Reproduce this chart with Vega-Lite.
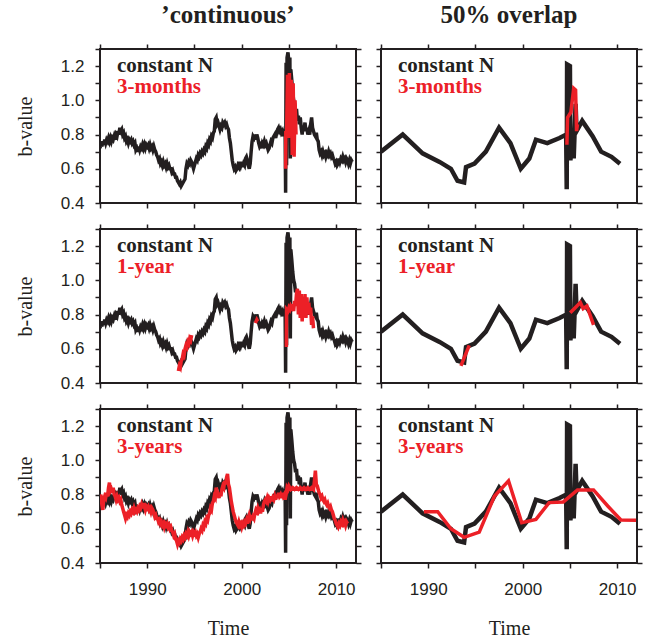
{
  "$schema": "https://vega.github.io/schema/vega-lite/v6.json",
  "background": "white",
  "padding": {"left": 14, "top": 2, "right": 0, "bottom": 0},
  "columns": 2,
  "spacing": {"row": 10, "column": 11},
  "resolve": {"scale": {"color": "independent"}, "legend": {"color": "independent"}},
  "config": {
    "view": {"stroke": "#231f20", "strokeWidth": 2},
    "axis": {"domain": false, "grid": false, "tickColor": "#231f20", "tickWidth": 1.5, "tickSize": 5, "labelFont": "Liberation Sans", "labelFontSize": 17, "labelColor": "#231f20", "titleFont": "Liberation Serif", "titleFontSize": 20, "titleFontWeight": "normal", "titleColor": "#231f20"},
    "axisX": {"labelPadding": 13, "titlePadding": 21},
    "axisY": {"labelPadding": 11, "titlePadding": 25},
    "legend": {"title": null, "symbolSize": 1, "symbolOpacity": 0, "symbolStrokeWidth": 0, "labelFont": "Liberation Serif", "labelFontSize": 21, "labelFontWeight": "bold", "labelOffset": 0, "padding": 0, "labelColor": {"expr": "datum.label === 'constant N' ? '#231f20' : '#ec2027'"}},
    "title": {"font": "Liberation Serif", "fontSize": 25, "fontWeight": "bold", "color": "#231f20", "frame": "group", "anchor": "middle", "offset": 15}
  },
  "datasets": {
    "contN": [
      {"t":1985.0,"b":0.72},{"t":1985.1,"b":0.75},{"t":1985.2,"b":0.73},{"t":1985.3,"b":0.76},{"t":1985.4,"b":0.74},{"t":1985.5,"b":0.77},{"t":1985.6,"b":0.75},{"t":1985.7,"b":0.77},{"t":1985.8,"b":0.76},{"t":1985.9,"b":0.78},
      {"t":1986.0,"b":0.76},{"t":1986.1,"b":0.78},{"t":1986.2,"b":0.76},{"t":1986.3,"b":0.78},{"t":1986.4,"b":0.77},{"t":1986.5,"b":0.79},{"t":1986.6,"b":0.77},{"t":1986.7,"b":0.80},{"t":1986.8,"b":0.79},{"t":1986.9,"b":0.82},
      {"t":1987.0,"b":0.80},{"t":1987.1,"b":0.84},{"t":1987.2,"b":0.82},{"t":1987.3,"b":0.83},{"t":1987.4,"b":0.80},{"t":1987.5,"b":0.81},{"t":1987.6,"b":0.78},{"t":1987.7,"b":0.79},{"t":1987.8,"b":0.76},{"t":1987.9,"b":0.77},
      {"t":1988.0,"b":0.75},{"t":1988.1,"b":0.77},{"t":1988.2,"b":0.76},{"t":1988.3,"b":0.77},{"t":1988.4,"b":0.75},{"t":1988.5,"b":0.76},{"t":1988.6,"b":0.74},{"t":1988.7,"b":0.75},{"t":1988.8,"b":0.71},{"t":1988.9,"b":0.72},
      {"t":1989.0,"b":0.70},{"t":1989.1,"b":0.73},{"t":1989.2,"b":0.71},{"t":1989.3,"b":0.73},{"t":1989.4,"b":0.72},{"t":1989.5,"b":0.74},{"t":1989.6,"b":0.72},{"t":1989.7,"b":0.74},{"t":1989.8,"b":0.72},{"t":1989.9,"b":0.74},
      {"t":1990.0,"b":0.73},{"t":1990.1,"b":0.74},{"t":1990.2,"b":0.72},{"t":1990.3,"b":0.74},{"t":1990.4,"b":0.72},{"t":1990.5,"b":0.73},{"t":1990.6,"b":0.71},{"t":1990.7,"b":0.73},{"t":1990.8,"b":0.71},{"t":1990.9,"b":0.70},
      {"t":1991.0,"b":0.68},{"t":1991.1,"b":0.67},{"t":1991.2,"b":0.65},{"t":1991.3,"b":0.66},{"t":1991.4,"b":0.63},{"t":1991.5,"b":0.64},{"t":1991.6,"b":0.62},{"t":1991.7,"b":0.64},{"t":1991.8,"b":0.62},{"t":1991.9,"b":0.63},
      {"t":1992.0,"b":0.61},{"t":1992.1,"b":0.63},{"t":1992.2,"b":0.61},{"t":1992.3,"b":0.62},{"t":1992.4,"b":0.60},{"t":1992.5,"b":0.60},{"t":1992.6,"b":0.58},{"t":1992.7,"b":0.59},{"t":1992.8,"b":0.57},{"t":1992.9,"b":0.57},
      {"t":1993.0,"b":0.55},{"t":1993.1,"b":0.55},{"t":1993.2,"b":0.53},{"t":1993.3,"b":0.52},{"t":1993.4,"b":0.51},{"t":1993.5,"b":0.52},{"t":1993.6,"b":0.50},{"t":1993.7,"b":0.51},{"t":1993.8,"b":0.52},{"t":1993.9,"b":0.53},
      {"t":1994.0,"b":0.54},{"t":1994.1,"b":0.60},{"t":1994.2,"b":0.63},{"t":1994.3,"b":0.62},{"t":1994.4,"b":0.64},{"t":1994.5,"b":0.63},{"t":1994.6,"b":0.65},{"t":1994.7,"b":0.64},{"t":1994.8,"b":0.62},{"t":1994.9,"b":0.60},
      {"t":1995.0,"b":0.62},{"t":1995.1,"b":0.64},{"t":1995.2,"b":0.66},{"t":1995.3,"b":0.65},{"t":1995.4,"b":0.68},{"t":1995.5,"b":0.67},{"t":1995.6,"b":0.69},{"t":1995.7,"b":0.68},{"t":1995.8,"b":0.70},{"t":1995.9,"b":0.69},
      {"t":1996.0,"b":0.71},{"t":1996.1,"b":0.70},{"t":1996.2,"b":0.73},{"t":1996.3,"b":0.72},{"t":1996.4,"b":0.75},{"t":1996.5,"b":0.74},{"t":1996.6,"b":0.77},{"t":1996.7,"b":0.76},{"t":1996.8,"b":0.79},{"t":1996.9,"b":0.78},
      {"t":1997.0,"b":0.81},{"t":1997.1,"b":0.82},{"t":1997.2,"b":0.89},{"t":1997.3,"b":0.90},{"t":1997.4,"b":0.86},{"t":1997.5,"b":0.87},{"t":1997.6,"b":0.85},{"t":1997.7,"b":0.83},{"t":1997.8,"b":0.85},{"t":1997.9,"b":0.84},
      {"t":1998.0,"b":0.87},{"t":1998.1,"b":0.86},{"t":1998.2,"b":0.87},{"t":1998.3,"b":0.85},{"t":1998.4,"b":0.86},{"t":1998.5,"b":0.84},{"t":1998.6,"b":0.83},{"t":1998.7,"b":0.78},{"t":1998.8,"b":0.75},{"t":1998.9,"b":0.70},
      {"t":1999.0,"b":0.65},{"t":1999.1,"b":0.62},{"t":1999.2,"b":0.60},{"t":1999.3,"b":0.61},{"t":1999.4,"b":0.59},{"t":1999.5,"b":0.60},{"t":1999.6,"b":0.62},{"t":1999.7,"b":0.61},{"t":1999.8,"b":0.64},{"t":1999.9,"b":0.62},
      {"t":2000.0,"b":0.64},{"t":2000.1,"b":0.61},{"t":2000.2,"b":0.63},{"t":2000.3,"b":0.62},{"t":2000.4,"b":0.66},{"t":2000.5,"b":0.67},{"t":2000.6,"b":0.65},{"t":2000.7,"b":0.62},{"t":2000.8,"b":0.60},{"t":2000.9,"b":0.63},
      {"t":2001.0,"b":0.70},{"t":2001.1,"b":0.76},{"t":2001.2,"b":0.79},{"t":2001.3,"b":0.78},{"t":2001.4,"b":0.80},{"t":2001.5,"b":0.77},{"t":2001.6,"b":0.80},{"t":2001.7,"b":0.78},{"t":2001.8,"b":0.75},{"t":2001.9,"b":0.73},
      {"t":2002.0,"b":0.74},{"t":2002.1,"b":0.72},{"t":2002.2,"b":0.75},{"t":2002.3,"b":0.74},{"t":2002.4,"b":0.76},{"t":2002.5,"b":0.74},{"t":2002.6,"b":0.75},{"t":2002.7,"b":0.73},{"t":2002.8,"b":0.71},{"t":2002.9,"b":0.72},
      {"t":2003.0,"b":0.74},{"t":2003.1,"b":0.76},{"t":2003.2,"b":0.75},{"t":2003.3,"b":0.78},{"t":2003.4,"b":0.79},{"t":2003.5,"b":0.80},{"t":2003.6,"b":0.78},{"t":2003.7,"b":0.81},{"t":2003.8,"b":0.83},{"t":2003.9,"b":0.84},
      {"t":2004.0,"b":0.82},{"t":2004.1,"b":0.83},{"t":2004.2,"b":0.81},{"t":2004.3,"b":0.82},{"t":2004.4,"b":0.79},{"t":2004.5,"b":0.81},{"t":2004.6,"b":0.80},{"t":2004.65,"b":0.46},{"t":2004.7,"b":1.22},{"t":2004.75,"b":0.62},
      {"t":2004.8,"b":1.25},{"t":2004.9,"b":1.28},{"t":2005.0,"b":1.22},{"t":2005.1,"b":1.25},{"t":2005.15,"b":0.66},{"t":2005.2,"b":1.18},{"t":2005.3,"b":1.12},{"t":2005.4,"b":1.05},{"t":2005.5,"b":1.00},{"t":2005.6,"b":0.98},
      {"t":2005.7,"b":0.93},{"t":2005.8,"b":0.95},{"t":2005.9,"b":0.88},{"t":2006.0,"b":0.91},{"t":2006.1,"b":0.86},{"t":2006.2,"b":0.90},{"t":2006.3,"b":0.84},{"t":2006.4,"b":0.80},{"t":2006.5,"b":0.85},{"t":2006.6,"b":0.83},
      {"t":2006.7,"b":0.87},{"t":2006.8,"b":0.82},{"t":2006.9,"b":0.84},{"t":2007.0,"b":0.80},{"t":2007.1,"b":0.82},{"t":2007.2,"b":0.80},{"t":2007.3,"b":0.86},{"t":2007.4,"b":0.90},{"t":2007.5,"b":0.84},{"t":2007.6,"b":0.82},
      {"t":2007.7,"b":0.80},{"t":2007.8,"b":0.79},{"t":2007.9,"b":0.81},{"t":2008.0,"b":0.77},{"t":2008.1,"b":0.76},{"t":2008.2,"b":0.71},{"t":2008.3,"b":0.69},{"t":2008.4,"b":0.70},{"t":2008.5,"b":0.68},{"t":2008.6,"b":0.70},
      {"t":2008.7,"b":0.68},{"t":2008.8,"b":0.69},{"t":2008.9,"b":0.67},{"t":2009.0,"b":0.69},{"t":2009.1,"b":0.68},{"t":2009.2,"b":0.70},{"t":2009.3,"b":0.68},{"t":2009.4,"b":0.69},{"t":2009.5,"b":0.67},{"t":2009.6,"b":0.68},
      {"t":2009.7,"b":0.66},{"t":2009.8,"b":0.65},{"t":2009.9,"b":0.63},{"t":2010.0,"b":0.64},{"t":2010.1,"b":0.62},{"t":2010.2,"b":0.63},{"t":2010.3,"b":0.66},{"t":2010.4,"b":0.64},{"t":2010.5,"b":0.66},{"t":2010.6,"b":0.65},
      {"t":2010.7,"b":0.67},{"t":2010.8,"b":0.65},{"t":2010.9,"b":0.66},{"t":2011.0,"b":0.64},{"t":2011.1,"b":0.66},{"t":2011.2,"b":0.65},{"t":2011.3,"b":0.63},{"t":2011.4,"b":0.65},{"t":2011.5,"b":0.63},{"t":2011.6,"b":0.65},{"t":2011.7,"b":0.64}
    ],
    "c3m": [
      {"t":2004.65,"b":0.60},{"t":2004.67,"b":0.82},{"t":2004.75,"b":0.80},{"t":2004.85,"b":1.15},{"t":2004.95,"b":0.78},{"t":2005.05,"b":1.16},{"t":2005.15,"b":0.82},{"t":2005.25,"b":1.12},{"t":2005.35,"b":0.68},{"t":2005.45,"b":1.10},{"t":2005.55,"b":0.67},{"t":2005.65,"b":1.00},{"t":2005.75,"b":0.80}
    ],
    "c1y": [
      {"t":1993.3,"b":0.47,"seg":"a"},{"t":1993.4,"b":0.50,"seg":"a"},{"t":1993.5,"b":0.49,"seg":"a"},{"t":1993.6,"b":0.53,"seg":"a"},{"t":1993.7,"b":0.54,"seg":"a"},{"t":1993.8,"b":0.57,"seg":"a"},{"t":1993.9,"b":0.56,"seg":"a"},{"t":1994.0,"b":0.60,"seg":"a"},{"t":1994.1,"b":0.62,"seg":"a"},{"t":1994.2,"b":0.61,"seg":"a"},{"t":1994.3,"b":0.64,"seg":"a"},{"t":1994.4,"b":0.63,"seg":"a"},{"t":1994.5,"b":0.66,"seg":"a"},{"t":1994.6,"b":0.65,"seg":"a"},{"t":1994.7,"b":0.68,"seg":"a"},
      {"t":2001.45,"b":0.75,"seg":"b"},{"t":2001.6,"b":0.77,"seg":"b"},{"t":2001.7,"b":0.76,"seg":"b"},
      {"t":2004.73,"b":0.61,"seg":"c"},{"t":2004.75,"b":0.83,"seg":"c"},{"t":2004.9,"b":0.82,"seg":"c"},{"t":2005.0,"b":0.84,"seg":"c"},{"t":2005.1,"b":0.83,"seg":"c"},{"t":2005.2,"b":0.85,"seg":"c"},{"t":2005.3,"b":0.84,"seg":"c"},{"t":2005.4,"b":0.86,"seg":"c"},{"t":2005.5,"b":0.82,"seg":"c"},{"t":2005.6,"b":0.88,"seg":"c"},{"t":2005.7,"b":0.85,"seg":"c"},{"t":2005.8,"b":0.92,"seg":"c"},{"t":2005.9,"b":0.95,"seg":"c"},{"t":2006.0,"b":0.80,"seg":"c"},{"t":2006.1,"b":0.94,"seg":"c"},{"t":2006.2,"b":0.78,"seg":"c"},{"t":2006.3,"b":0.92,"seg":"c"},{"t":2006.4,"b":0.76,"seg":"c"},{"t":2006.5,"b":0.88,"seg":"c"},{"t":2006.6,"b":0.80,"seg":"c"},{"t":2006.7,"b":0.92,"seg":"c"},{"t":2006.8,"b":0.78,"seg":"c"},{"t":2006.9,"b":0.90,"seg":"c"},{"t":2007.0,"b":0.82,"seg":"c"},{"t":2007.1,"b":0.87,"seg":"c"},{"t":2007.2,"b":0.80,"seg":"c"},{"t":2007.3,"b":0.84,"seg":"c"},{"t":2007.4,"b":0.74,"seg":"c"},{"t":2007.5,"b":0.79,"seg":"c"},{"t":2007.6,"b":0.72,"seg":"c"}
    ],
    "c3y": [
      {"t":1985.0,"b":0.78},{"t":1985.1,"b":0.80},{"t":1985.2,"b":0.74},{"t":1985.3,"b":0.71},{"t":1985.4,"b":0.77},{"t":1985.5,"b":0.79},{"t":1985.6,"b":0.78},{"t":1985.7,"b":0.81},{"t":1985.8,"b":0.79},{"t":1985.9,"b":0.84},
      {"t":1986.0,"b":0.87},{"t":1986.1,"b":0.82},{"t":1986.2,"b":0.83},{"t":1986.3,"b":0.81},{"t":1986.4,"b":0.84},{"t":1986.5,"b":0.80},{"t":1986.6,"b":0.79},{"t":1986.7,"b":0.77},{"t":1986.8,"b":0.79},{"t":1986.9,"b":0.77},
      {"t":1987.0,"b":0.78},{"t":1987.1,"b":0.76},{"t":1987.2,"b":0.77},{"t":1987.3,"b":0.74},{"t":1987.4,"b":0.72},{"t":1987.5,"b":0.70},{"t":1987.6,"b":0.68},{"t":1987.7,"b":0.66},{"t":1987.8,"b":0.68},{"t":1987.9,"b":0.67},
      {"t":1988.0,"b":0.69},{"t":1988.1,"b":0.68},{"t":1988.2,"b":0.70},{"t":1988.3,"b":0.69},{"t":1988.4,"b":0.71},{"t":1988.5,"b":0.70},{"t":1988.6,"b":0.72},{"t":1988.7,"b":0.70},{"t":1988.8,"b":0.71},{"t":1988.9,"b":0.70},
      {"t":1989.0,"b":0.72},{"t":1989.1,"b":0.71},{"t":1989.2,"b":0.73},{"t":1989.3,"b":0.72},{"t":1989.4,"b":0.74},{"t":1989.5,"b":0.72},{"t":1989.6,"b":0.75},{"t":1989.7,"b":0.73},{"t":1989.8,"b":0.71},{"t":1989.9,"b":0.73},
      {"t":1990.0,"b":0.72},{"t":1990.1,"b":0.73},{"t":1990.2,"b":0.71},{"t":1990.3,"b":0.72},{"t":1990.4,"b":0.70},{"t":1990.5,"b":0.72},{"t":1990.6,"b":0.71},{"t":1990.7,"b":0.69},{"t":1990.8,"b":0.67},{"t":1990.9,"b":0.68},
      {"t":1991.0,"b":0.66},{"t":1991.1,"b":0.66},{"t":1991.2,"b":0.64},{"t":1991.3,"b":0.65},{"t":1991.4,"b":0.63},{"t":1991.5,"b":0.64},{"t":1991.6,"b":0.62},{"t":1991.7,"b":0.63},{"t":1991.8,"b":0.61},{"t":1991.9,"b":0.63},
      {"t":1992.0,"b":0.62},{"t":1992.1,"b":0.63},{"t":1992.2,"b":0.61},{"t":1992.3,"b":0.62},{"t":1992.4,"b":0.60},{"t":1992.5,"b":0.61},{"t":1992.6,"b":0.59},{"t":1992.7,"b":0.58},{"t":1992.8,"b":0.56},{"t":1992.9,"b":0.57},
      {"t":1993.0,"b":0.54},{"t":1993.1,"b":0.53},{"t":1993.2,"b":0.51},{"t":1993.3,"b":0.53},{"t":1993.4,"b":0.52},{"t":1993.5,"b":0.54},{"t":1993.6,"b":0.53},{"t":1993.7,"b":0.55},{"t":1993.8,"b":0.54},{"t":1993.9,"b":0.56},
      {"t":1994.0,"b":0.55},{"t":1994.1,"b":0.57},{"t":1994.2,"b":0.56},{"t":1994.3,"b":0.58},{"t":1994.4,"b":0.56},{"t":1994.5,"b":0.58},{"t":1994.6,"b":0.57},{"t":1994.7,"b":0.58},{"t":1994.8,"b":0.56},{"t":1994.9,"b":0.58},
      {"t":1995.0,"b":0.57},{"t":1995.1,"b":0.58},{"t":1995.2,"b":0.56},{"t":1995.3,"b":0.57},{"t":1995.4,"b":0.55},{"t":1995.5,"b":0.57},{"t":1995.6,"b":0.58},{"t":1995.7,"b":0.60},{"t":1995.8,"b":0.59},{"t":1995.9,"b":0.62},
      {"t":1996.0,"b":0.61},{"t":1996.1,"b":0.64},{"t":1996.2,"b":0.63},{"t":1996.3,"b":0.66},{"t":1996.4,"b":0.65},{"t":1996.5,"b":0.68},{"t":1996.6,"b":0.69},{"t":1996.7,"b":0.72},{"t":1996.8,"b":0.71},{"t":1996.9,"b":0.75},
      {"t":1997.0,"b":0.76},{"t":1997.1,"b":0.79},{"t":1997.2,"b":0.78},{"t":1997.3,"b":0.84},{"t":1997.4,"b":0.82},{"t":1997.5,"b":0.80},{"t":1997.6,"b":0.78},{"t":1997.7,"b":0.81},{"t":1997.8,"b":0.79},{"t":1997.9,"b":0.83},
      {"t":1998.0,"b":0.85},{"t":1998.1,"b":0.84},{"t":1998.2,"b":0.88},{"t":1998.3,"b":0.86},{"t":1998.4,"b":0.90},{"t":1998.5,"b":0.92},{"t":1998.6,"b":0.86},{"t":1998.7,"b":0.84},{"t":1998.8,"b":0.80},{"t":1998.9,"b":0.76},
      {"t":1999.0,"b":0.73},{"t":1999.1,"b":0.70},{"t":1999.2,"b":0.68},{"t":1999.3,"b":0.66},{"t":1999.4,"b":0.64},{"t":1999.5,"b":0.63},{"t":1999.6,"b":0.62},{"t":1999.7,"b":0.64},{"t":1999.8,"b":0.62},{"t":1999.9,"b":0.63},
      {"t":2000.0,"b":0.61},{"t":2000.1,"b":0.63},{"t":2000.2,"b":0.62},{"t":2000.3,"b":0.64},{"t":2000.4,"b":0.63},{"t":2000.5,"b":0.65},{"t":2000.6,"b":0.63},{"t":2000.7,"b":0.66},{"t":2000.8,"b":0.68},{"t":2000.9,"b":0.66},
      {"t":2001.0,"b":0.68},{"t":2001.1,"b":0.65},{"t":2001.2,"b":0.67},{"t":2001.3,"b":0.66},{"t":2001.4,"b":0.69},{"t":2001.5,"b":0.71},{"t":2001.6,"b":0.70},{"t":2001.7,"b":0.72},{"t":2001.8,"b":0.70},{"t":2001.9,"b":0.71},
      {"t":2002.0,"b":0.69},{"t":2002.1,"b":0.72},{"t":2002.2,"b":0.70},{"t":2002.3,"b":0.74},{"t":2002.4,"b":0.76},{"t":2002.5,"b":0.77},{"t":2002.6,"b":0.76},{"t":2002.7,"b":0.78},{"t":2002.8,"b":0.76},{"t":2002.9,"b":0.78},
      {"t":2003.0,"b":0.77},{"t":2003.1,"b":0.79},{"t":2003.2,"b":0.76},{"t":2003.3,"b":0.78},{"t":2003.4,"b":0.77},{"t":2003.5,"b":0.79},{"t":2003.6,"b":0.77},{"t":2003.7,"b":0.80},{"t":2003.8,"b":0.78},{"t":2003.9,"b":0.81},
      {"t":2004.0,"b":0.79},{"t":2004.1,"b":0.80},{"t":2004.2,"b":0.78},{"t":2004.3,"b":0.81},{"t":2004.4,"b":0.79},{"t":2004.5,"b":0.80},{"t":2004.6,"b":0.77},{"t":2004.7,"b":0.80},{"t":2004.8,"b":0.84},{"t":2004.9,"b":0.83},
      {"t":2005.0,"b":0.85},{"t":2005.2,"b":0.83},{"t":2005.4,"b":0.84},{"t":2005.6,"b":0.83},{"t":2005.8,"b":0.84},{"t":2006.0,"b":0.83},{"t":2006.2,"b":0.84},{"t":2006.4,"b":0.83},{"t":2006.6,"b":0.84},{"t":2006.8,"b":0.83},
      {"t":2007.0,"b":0.84},{"t":2007.2,"b":0.83},{"t":2007.4,"b":0.84},{"t":2007.6,"b":0.83},{"t":2007.7,"b":0.88},{"t":2007.8,"b":0.94},{"t":2007.9,"b":0.86},{"t":2008.0,"b":0.85},{"t":2008.1,"b":0.83},{"t":2008.2,"b":0.81},
      {"t":2008.3,"b":0.80},{"t":2008.4,"b":0.78},{"t":2008.5,"b":0.79},{"t":2008.6,"b":0.77},{"t":2008.7,"b":0.76},{"t":2008.8,"b":0.77},{"t":2008.9,"b":0.75},{"t":2009.0,"b":0.74},{"t":2009.1,"b":0.75},{"t":2009.2,"b":0.73},
      {"t":2009.3,"b":0.72},{"t":2009.4,"b":0.73},{"t":2009.5,"b":0.71},{"t":2009.6,"b":0.70},{"t":2009.7,"b":0.68},{"t":2009.8,"b":0.66},{"t":2009.9,"b":0.65},{"t":2010.0,"b":0.63},{"t":2010.1,"b":0.62},{"t":2010.2,"b":0.61},
      {"t":2010.3,"b":0.63},{"t":2010.4,"b":0.62},{"t":2010.5,"b":0.64},{"t":2010.6,"b":0.63},{"t":2010.7,"b":0.65},{"t":2010.8,"b":0.63},{"t":2010.9,"b":0.64},{"t":2011.0,"b":0.62},{"t":2011.1,"b":0.64},{"t":2011.2,"b":0.63}
    ],
    "ovN": [
      {"t":1985.0,"b":0.70},{"t":1987.3,"b":0.80},{"t":1989.4,"b":0.69},{"t":1991.2,"b":0.64},{"t":1992.4,"b":0.60},{"t":1993.1,"b":0.53},{"t":1993.8,"b":0.52},{"t":1994.0,"b":0.61},{"t":1994.9,"b":0.63},{"t":1996.1,"b":0.70},
      {"t":1997.5,"b":0.84},{"t":1998.7,"b":0.75},{"t":1999.8,"b":0.60},{"t":2000.7,"b":0.66},{"t":2001.4,"b":0.77},{"t":2002.6,"b":0.75},{"t":2003.9,"b":0.78},{"t":2004.6,"b":0.80},{"t":2004.66,"b":0.48},{"t":2004.7,"b":1.21},
      {"t":2005.0,"b":1.20},{"t":2005.05,"b":0.65},{"t":2005.3,"b":0.80},{"t":2005.4,"b":0.66},{"t":2005.6,"b":0.98},{"t":2005.7,"b":0.82},{"t":2006.3,"b":0.88},{"t":2007.4,"b":0.79},{"t":2008.3,"b":0.70},{"t":2009.4,"b":0.67},{"t":2010.3,"b":0.63}
    ],
    "o3m": [
      {"t":2004.68,"b":0.74},{"t":2004.75,"b":0.90},{"t":2005.1,"b":0.93},{"t":2005.4,"b":1.07},{"t":2005.6,"b":1.06},{"t":2005.7,"b":0.82},{"t":2005.8,"b":0.86}
    ],
    "o1y": [
      {"t":1993.46,"b":0.50,"seg":"a"},{"t":1994.34,"b":0.62,"seg":"a"},
      {"t":2005.03,"b":0.81,"seg":"b"},{"t":2005.56,"b":0.84,"seg":"b"},{"t":2006.1,"b":0.87,"seg":"b"},{"t":2006.4,"b":0.835,"seg":"b"},{"t":2006.8,"b":0.85,"seg":"b"},{"t":2007.5,"b":0.74,"seg":"b"}
    ],
    "o3y": [
      {"t":1989.54,"b":0.70},{"t":1991.0,"b":0.70},{"t":1992.4,"b":0.60},{"t":1993.8,"b":0.55},{"t":1995.4,"b":0.58},{"t":1997.0,"b":0.79},{"t":1998.5,"b":0.88},{"t":1999.9,"b":0.635},{"t":2001.4,"b":0.655},{"t":2002.8,"b":0.753},
      {"t":2004.3,"b":0.757},{"t":2005.8,"b":0.827},{"t":2007.5,"b":0.827},{"t":2009.0,"b":0.733},{"t":2010.4,"b":0.651},{"t":2012.0,"b":0.65}
    ]
  },
  "concat": [
    {
      "width": 256, "height": 154,
      "title": {"text": "’continuous’"},
      "layer": [
        {"data": {"name": "contN"}, "mark": {"type": "line", "strokeWidth": 3.5, "clip": true},
         "encoding": {
           "x": {"field": "t", "type": "quantitative", "scale": {"domain": [1985, 2012.1], "nice": false, "zero": false}, "axis": {"orient": "bottom", "values": [1985,1990,1995,2000,2005,2010], "labels": false, "title": null}},
           "y": {"field": "b", "type": "quantitative", "scale": {"domain": [0.4, 1.3], "nice": false, "zero": false}, "axis": {"orient": "left", "values": [0.4,0.5,0.6,0.7,0.8,0.9,1.0,1.1,1.2,1.3], "labelExpr": "round(datum.value*10) % 2 == 0 ? format(datum.value, '.1f') : ''", "title": "b-value"}},
           "color": {"datum": "constant N", "scale": {"domain": ["constant N", "3-months"], "range": ["#231f20", "#ec2027"]}, "legend": {"orient": "none", "legendX": -4, "legendY": 6, "rowPadding": -4}}
         }},
        {"data": {"name": "c3m"}, "mark": {"type": "line", "strokeWidth": 3.5, "clip": true},
         "encoding": {
           "x": {"field": "t", "type": "quantitative", "axis": {"orient": "top", "values": [1985,1990,1995,2000,2005,2010], "labels": false, "title": null}},
           "y": {"field": "b", "type": "quantitative", "axis": {"orient": "right", "values": [0.4,0.5,0.6,0.7,0.8,0.9,1.0,1.1,1.2,1.3], "labels": false, "title": null}},
           "color": {"datum": "3-months"}
         }}
      ],
      "resolve": {"axis": {"x": "independent", "y": "independent"}}
    },
    {
      "width": 256, "height": 154,
      "title": {"text": "50% overlap"},
      "layer": [
        {"data": {"name": "ovN"}, "mark": {"type": "line", "strokeWidth": 4.5, "clip": true},
         "encoding": {
           "x": {"field": "t", "type": "quantitative", "scale": {"domain": [1985, 2012.1], "nice": false, "zero": false}, "axis": {"orient": "bottom", "values": [1985,1990,1995,2000,2005,2010], "labels": false, "title": null}},
           "y": {"field": "b", "type": "quantitative", "scale": {"domain": [0.4, 1.3], "nice": false, "zero": false}, "axis": {"orient": "left", "values": [0.4,0.5,0.6,0.7,0.8,0.9,1.0,1.1,1.2,1.3], "labels": false, "title": null}},
           "color": {"datum": "constant N", "scale": {"domain": ["constant N", "3-months"], "range": ["#231f20", "#ec2027"]}, "legend": {"orient": "none", "legendX": -4, "legendY": 6, "rowPadding": -4}}
         }},
        {"data": {"name": "o3m"}, "mark": {"type": "line", "strokeWidth": 3.5, "clip": true},
         "encoding": {
           "x": {"field": "t", "type": "quantitative", "axis": {"orient": "top", "values": [1985,1990,1995,2000,2005,2010], "labels": false, "title": null}},
           "y": {"field": "b", "type": "quantitative", "axis": {"orient": "right", "values": [0.4,0.5,0.6,0.7,0.8,0.9,1.0,1.1,1.2,1.3], "labels": false, "title": null}},
           "color": {"datum": "3-months"}
         }}
      ],
      "resolve": {"axis": {"x": "independent", "y": "independent"}}
    },
    {
      "width": 256, "height": 154,
      "layer": [
        {"data": {"name": "contN"}, "mark": {"type": "line", "strokeWidth": 3.5, "clip": true},
         "encoding": {
           "x": {"field": "t", "type": "quantitative", "scale": {"domain": [1985, 2012.1], "nice": false, "zero": false}, "axis": {"orient": "bottom", "values": [1985,1990,1995,2000,2005,2010], "labels": false, "title": null}},
           "y": {"field": "b", "type": "quantitative", "scale": {"domain": [0.4, 1.3], "nice": false, "zero": false}, "axis": {"orient": "left", "values": [0.4,0.5,0.6,0.7,0.8,0.9,1.0,1.1,1.2,1.3], "labelExpr": "round(datum.value*10) % 2 == 0 ? format(datum.value, '.1f') : ''", "title": "b-value"}},
           "color": {"datum": "constant N", "scale": {"domain": ["constant N", "1-year"], "range": ["#231f20", "#ec2027"]}, "legend": {"orient": "none", "legendX": -4, "legendY": 6, "rowPadding": -4}}
         }},
        {"data": {"name": "c1y"}, "mark": {"type": "line", "strokeWidth": 3.5, "clip": true},
         "encoding": {
           "x": {"field": "t", "type": "quantitative", "axis": {"orient": "top", "values": [1985,1990,1995,2000,2005,2010], "labels": false, "title": null}},
           "y": {"field": "b", "type": "quantitative", "axis": {"orient": "right", "values": [0.4,0.5,0.6,0.7,0.8,0.9,1.0,1.1,1.2,1.3], "labels": false, "title": null}},
           "detail": {"field": "seg"},
           "color": {"datum": "1-year"}
         }}
      ],
      "resolve": {"axis": {"x": "independent", "y": "independent"}}
    },
    {
      "width": 256, "height": 154,
      "layer": [
        {"data": {"name": "ovN"}, "mark": {"type": "line", "strokeWidth": 4.5, "clip": true},
         "encoding": {
           "x": {"field": "t", "type": "quantitative", "scale": {"domain": [1985, 2012.1], "nice": false, "zero": false}, "axis": {"orient": "bottom", "values": [1985,1990,1995,2000,2005,2010], "labels": false, "title": null}},
           "y": {"field": "b", "type": "quantitative", "scale": {"domain": [0.4, 1.3], "nice": false, "zero": false}, "axis": {"orient": "left", "values": [0.4,0.5,0.6,0.7,0.8,0.9,1.0,1.1,1.2,1.3], "labels": false, "title": null}},
           "color": {"datum": "constant N", "scale": {"domain": ["constant N", "1-year"], "range": ["#231f20", "#ec2027"]}, "legend": {"orient": "none", "legendX": -4, "legendY": 6, "rowPadding": -4}}
         }},
        {"data": {"name": "o1y"}, "mark": {"type": "line", "strokeWidth": 3.5, "clip": true},
         "encoding": {
           "x": {"field": "t", "type": "quantitative", "axis": {"orient": "top", "values": [1985,1990,1995,2000,2005,2010], "labels": false, "title": null}},
           "y": {"field": "b", "type": "quantitative", "axis": {"orient": "right", "values": [0.4,0.5,0.6,0.7,0.8,0.9,1.0,1.1,1.2,1.3], "labels": false, "title": null}},
           "detail": {"field": "seg"},
           "color": {"datum": "1-year"}
         }}
      ],
      "resolve": {"axis": {"x": "independent", "y": "independent"}}
    },
    {
      "width": 256, "height": 154,
      "layer": [
        {"data": {"name": "contN"}, "mark": {"type": "line", "strokeWidth": 3.5, "clip": true},
         "encoding": {
           "x": {"field": "t", "type": "quantitative", "scale": {"domain": [1985, 2012.1], "nice": false, "zero": false}, "axis": {"orient": "bottom", "values": [1985,1990,1995,2000,2005,2010], "format": "d", "labelExpr": "datum.value % 10 == 0 ? datum.label : ''", "title": "Time"}},
           "y": {"field": "b", "type": "quantitative", "scale": {"domain": [0.4, 1.3], "nice": false, "zero": false}, "axis": {"orient": "left", "values": [0.4,0.5,0.6,0.7,0.8,0.9,1.0,1.1,1.2,1.3], "labelExpr": "round(datum.value*10) % 2 == 0 ? format(datum.value, '.1f') : ''", "title": "b-value"}},
           "color": {"datum": "constant N", "scale": {"domain": ["constant N", "3-years"], "range": ["#231f20", "#ec2027"]}, "legend": {"orient": "none", "legendX": -4, "legendY": 6, "rowPadding": -4}}
         }},
        {"data": {"name": "c3y"}, "mark": {"type": "line", "strokeWidth": 3.5, "clip": true},
         "encoding": {
           "x": {"field": "t", "type": "quantitative", "axis": {"orient": "top", "values": [1985,1990,1995,2000,2005,2010], "labels": false, "title": null}},
           "y": {"field": "b", "type": "quantitative", "axis": {"orient": "right", "values": [0.4,0.5,0.6,0.7,0.8,0.9,1.0,1.1,1.2,1.3], "labels": false, "title": null}},
           "color": {"datum": "3-years"}
         }}
      ],
      "resolve": {"axis": {"x": "independent", "y": "independent"}}
    },
    {
      "width": 256, "height": 154,
      "layer": [
        {"data": {"name": "ovN"}, "mark": {"type": "line", "strokeWidth": 4.5, "clip": true},
         "encoding": {
           "x": {"field": "t", "type": "quantitative", "scale": {"domain": [1985, 2012.1], "nice": false, "zero": false}, "axis": {"orient": "bottom", "values": [1985,1990,1995,2000,2005,2010], "format": "d", "labelExpr": "datum.value % 10 == 0 ? datum.label : ''", "title": "Time"}},
           "y": {"field": "b", "type": "quantitative", "scale": {"domain": [0.4, 1.3], "nice": false, "zero": false}, "axis": {"orient": "left", "values": [0.4,0.5,0.6,0.7,0.8,0.9,1.0,1.1,1.2,1.3], "labels": false, "title": null}},
           "color": {"datum": "constant N", "scale": {"domain": ["constant N", "3-years"], "range": ["#231f20", "#ec2027"]}, "legend": {"orient": "none", "legendX": -4, "legendY": 6, "rowPadding": -4}}
         }},
        {"data": {"name": "o3y"}, "mark": {"type": "line", "strokeWidth": 3.5, "clip": true},
         "encoding": {
           "x": {"field": "t", "type": "quantitative", "axis": {"orient": "top", "values": [1985,1990,1995,2000,2005,2010], "labels": false, "title": null}},
           "y": {"field": "b", "type": "quantitative", "axis": {"orient": "right", "values": [0.4,0.5,0.6,0.7,0.8,0.9,1.0,1.1,1.2,1.3], "labels": false, "title": null}},
           "color": {"datum": "3-years"}
         }}
      ],
      "resolve": {"axis": {"x": "independent", "y": "independent"}}
    }
  ]
}
